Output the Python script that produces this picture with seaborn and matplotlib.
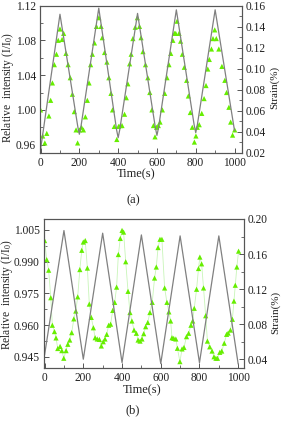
import matplotlib
matplotlib.use("Agg")
import matplotlib.pyplot as plt
import numpy as np
import pandas as pd
import seaborn as sns
from matplotlib.ticker import MultipleLocator, FormatStrFormatter

# ---------------- Panel (a) data ----------------
strain_a_time = [0, 100, 192, 200, 208, 300, 392, 400, 408, 500, 592, 600, 608, 700, 792, 800, 808, 900, 1000]
strain_a_val = [0.023, 0.1517, 0.0445, 0.0374, 0.0445, 0.1575, 0.0415, 0.0341, 0.0415, 0.1525,
                0.0435, 0.0363, 0.0435, 0.1559, 0.0460, 0.0389, 0.0460, 0.1559, 0.0407]

ri_a_time = [0, 11, 22, 32, 43, 52, 61, 71, 82, 91, 100, 111, 119, 131, 142, 153, 164, 174, 183, 191,
             201, 211, 221, 231, 241, 250, 258, 267, 278, 288, 301, 312, 318, 330, 342, 352, 363, 371,
             380, 393, 402, 411, 420, 433, 442, 450, 459, 467, 476, 488, 499, 510, 518, 528, 541, 553,
             563, 574, 582, 590, 598, 607, 616, 628, 640, 652, 662, 671, 682, 690, 697, 704, 714, 722,
             731, 741, 753, 762, 772, 782, 793, 801, 808, 818, 831, 843, 853, 862, 870, 881, 889, 898,
             906, 919, 935, 950, 959, 971, 980, 990, 1001]
ri_a_val = [1.000, 0.970, 0.962, 0.973, 0.993, 1.011, 1.031, 1.052, 1.064, 1.080, 1.093, 1.081, 1.088,
            1.065, 1.052, 1.037, 1.018, 0.998, 0.977, 0.962, 0.977, 0.980, 0.977, 0.992, 1.011, 1.031,
            1.052, 1.064, 1.077, 1.096, 1.106, 1.096, 1.083, 1.066, 1.055, 1.037, 1.019, 1.000, 0.981,
            0.966, 0.981, 0.982, 0.982, 0.995, 1.014, 1.030, 1.053, 1.064, 1.082, 1.095, 1.106, 1.096,
            1.083, 1.067, 1.052, 1.037, 1.020, 1.000, 0.982, 0.969, 0.980, 0.982, 0.986, 1.000, 1.019,
            1.037, 1.052, 1.065, 1.080, 1.088, 1.088, 1.102, 1.088, 1.079, 1.064, 1.049, 1.034, 1.016,
            0.997, 0.980, 0.963, 0.970, 0.980, 0.983, 0.996, 1.013, 1.028, 1.047, 1.058, 1.070, 1.082,
            1.092, 1.082, 1.070, 1.050, 1.034, 1.020, 1.003, 0.986, 0.971, 0.977]

# ---------------- Panel (b) data ----------------
strain_b_time = [0, 100, 200, 300, 400, 500, 600, 700, 800, 900, 1000]
strain_b_val = [0.045, 0.1868, 0.040, 0.1838, 0.0362, 0.1818, 0.035, 0.1807, 0.036, 0.1807, 0.0344]

ri_b_time = [0, 11, 21, 32, 40, 51, 59, 68, 80, 89, 99, 111, 120, 130, 140, 151, 161, 171, 182, 192,
             200, 210, 221, 231, 241, 252, 261, 272, 283, 293, 303, 312, 321, 331, 341, 352, 362, 372,
             381, 391, 400, 408, 419, 431, 441, 451, 462, 474, 483, 493, 503, 512, 522, 533, 544, 556,
             568, 577, 586, 596, 606, 620, 632, 642, 651, 658, 667, 678, 686, 699, 710, 720, 733, 744,
             756, 765, 773, 785, 795, 802, 811, 821, 832, 841, 853, 865, 875, 885, 893, 905, 915, 928,
             940, 948, 960, 970, 978, 985, 993, 1002]
ri_b_val = [1.000, 0.991, 0.986, 0.973, 0.960, 0.957, 0.954, 0.949, 0.950, 0.948, 0.9444, 0.948, 0.951,
            0.953, 0.9565, 0.963, 0.9667, 0.9734, 0.9863, 0.9954, 0.9993, 1.000, 0.987, 0.970, 0.9637,
            0.9588, 0.9541, 0.9535, 0.9533, 0.9502, 0.9522, 0.9535, 0.9557, 0.960, 0.9605, 0.967, 0.9708,
            0.978, 0.9934, 1.001, 1.0048, 1.004, 0.990, 0.976, 0.966, 0.962, 0.9577, 0.9562, 0.953,
            0.9525, 0.9535, 0.956, 0.9593, 0.9613, 0.966, 0.9708, 0.9823, 0.9875, 0.9967, 1.0006, 1.0006,
            0.9776, 0.9708, 0.9663, 0.962, 0.9541, 0.9538, 0.9535, 0.9491, 0.9428, 0.9488, 0.9495,
            0.9546, 0.9562, 0.960, 0.962, 0.968, 0.977, 0.9868, 0.9922, 0.989, 0.9776, 0.9645, 0.9525,
            0.9498, 0.9478, 0.9451, 0.9444, 0.9444, 0.9472, 0.9478, 0.9515, 0.9557, 0.9563, 0.9577,
            0.9628, 0.9714, 0.9789, 0.9875, 0.995]

left_label = "Relative  intensity (I/I$_\\mathregular{0}$)"
right_label = "Strain(%)"
x_label = "Time(s)"
captions = ["(a)", "(b)"]

# ---------------- Style ----------------
sns.set_style("ticks")
plt.rcParams["font.family"] = ["Liberation Serif", "DejaVu Serif"]
plt.rcParams["mathtext.fontset"] = "custom"
plt.rcParams["mathtext.rm"] = "Liberation Serif"
plt.rcParams["mathtext.it"] = "Liberation Serif:italic"
SPINE = "#555555"
TXT = "#222222"
GRAY = "#808080"
GREEN = "#66ee00"
LIGHTGREEN = "#c8f5b8"

fig = plt.figure(figsize=(2.83, 4.22), dpi=100)


def style_axes(ax, ax2, xmaj, ymaj, ymin, y2maj, y2min, lpos, rpos, xpos):
    for a in (ax, ax2):
        for s in a.spines.values():
            s.set_color(SPINE)
            s.set_linewidth(0.8)
    ax.xaxis.set_major_locator(MultipleLocator(xmaj))
    ax.xaxis.set_minor_locator(MultipleLocator(xmaj / 2))
    ax.yaxis.set_major_locator(MultipleLocator(ymaj))
    ax.yaxis.set_minor_locator(MultipleLocator(ymin))
    ax2.yaxis.set_major_locator(MultipleLocator(y2maj))
    ax2.yaxis.set_minor_locator(MultipleLocator(y2min))
    for a in (ax, ax2):
        a.tick_params(which="major", direction="in", length=3.5, width=0.7, colors=SPINE,
                      labelcolor=TXT, labelsize=8.3, pad=3)
        a.tick_params(which="minor", direction="in", length=2, width=0.6, colors=SPINE)
    ax2.tick_params(axis="y", which="both", left=False, right=True, pad=2.5)
    ax.tick_params(axis="y", which="both", right=False)
    ax.set_xlabel(x_label, fontsize=9, color=TXT)
    ax.set_ylabel(left_label, fontsize=8.3, color=TXT)
    ax2.set_ylabel(right_label, fontsize=8, color=TXT)
    ax.yaxis.set_label_coords(*lpos)
    ax2.yaxis.set_label_coords(*rpos)
    ax.xaxis.set_label_coords(*xpos)
    ax.yaxis.label.set_va("center")
    ax2.yaxis.label.set_va("center")
    ax.xaxis.label.set_va("center")


# ---- Panel (a)
axa = fig.add_axes([0.1413, 0.6386, 0.7128, 0.3483])
axa2 = axa.twinx()
dfa_s = pd.DataFrame({"t": strain_a_time, "s": strain_a_val})
dfa_r = pd.DataFrame({"t": ri_a_time, "r": ri_a_val})
sns.scatterplot(data=dfa_r, x="t", y="r", ax=axa, marker="^", color=GREEN, s=14,
                edgecolor="none", zorder=3)
sns.lineplot(data=dfa_s, x="t", y="s", ax=axa2, color=GRAY, lw=0.9, zorder=2)
axa.set_xlim(-3, 1037)
axa.set_ylim(0.951, 1.12)
axa2.set_ylim(0.02, 0.16)
style_axes(axa, axa2, 200, 0.04, 0.02, 0.02, 0.01,
           (-0.158, 0.44), (1.16, 0.44), (0.478, -0.148))
axa.yaxis.set_major_formatter(FormatStrFormatter("%.2f"))
axa2.yaxis.set_major_formatter(FormatStrFormatter("%.2f"))

# ---- Panel (b)
axb = fig.add_axes([0.1555, 0.128, 0.7067, 0.3531])
axb2 = axb.twinx()
dfb_s = pd.DataFrame({"t": strain_b_time, "s": strain_b_val})
dfb_r = pd.DataFrame({"t": ri_b_time, "r": ri_b_val})
sns.lineplot(data=dfb_r, x="t", y="r", ax=axb, color=LIGHTGREEN, lw=0.6, zorder=2)
sns.scatterplot(data=dfb_r, x="t", y="r", ax=axb, marker="^", color=GREEN, s=14,
                edgecolor="none", zorder=3)
sns.lineplot(data=dfb_s, x="t", y="s", ax=axb2, color=GRAY, lw=0.9, zorder=2)
axb.set_xlim(-3, 1030)
axb.set_ylim(0.9398, 1.0102)
axb2.set_ylim(0.03, 0.20)
style_axes(axb, axb2, 200, 0.015, 0.0075, 0.04, 0.02,
           (-0.185, 0.49), (1.155, 0.376), (0.488, -0.148))
axb.yaxis.set_major_formatter(FormatStrFormatter("%.3f"))
axb2.yaxis.set_major_formatter(FormatStrFormatter("%.2f"))

fig.text(133 / 283, 1 - 200 / 422, captions[0], ha="center", va="center", fontsize=9, color=TXT)
fig.text(133 / 283, 1 - 410 / 422, captions[1], ha="center", va="center", fontsize=9, color=TXT)

fig.savefig("out.png", dpi=100)
